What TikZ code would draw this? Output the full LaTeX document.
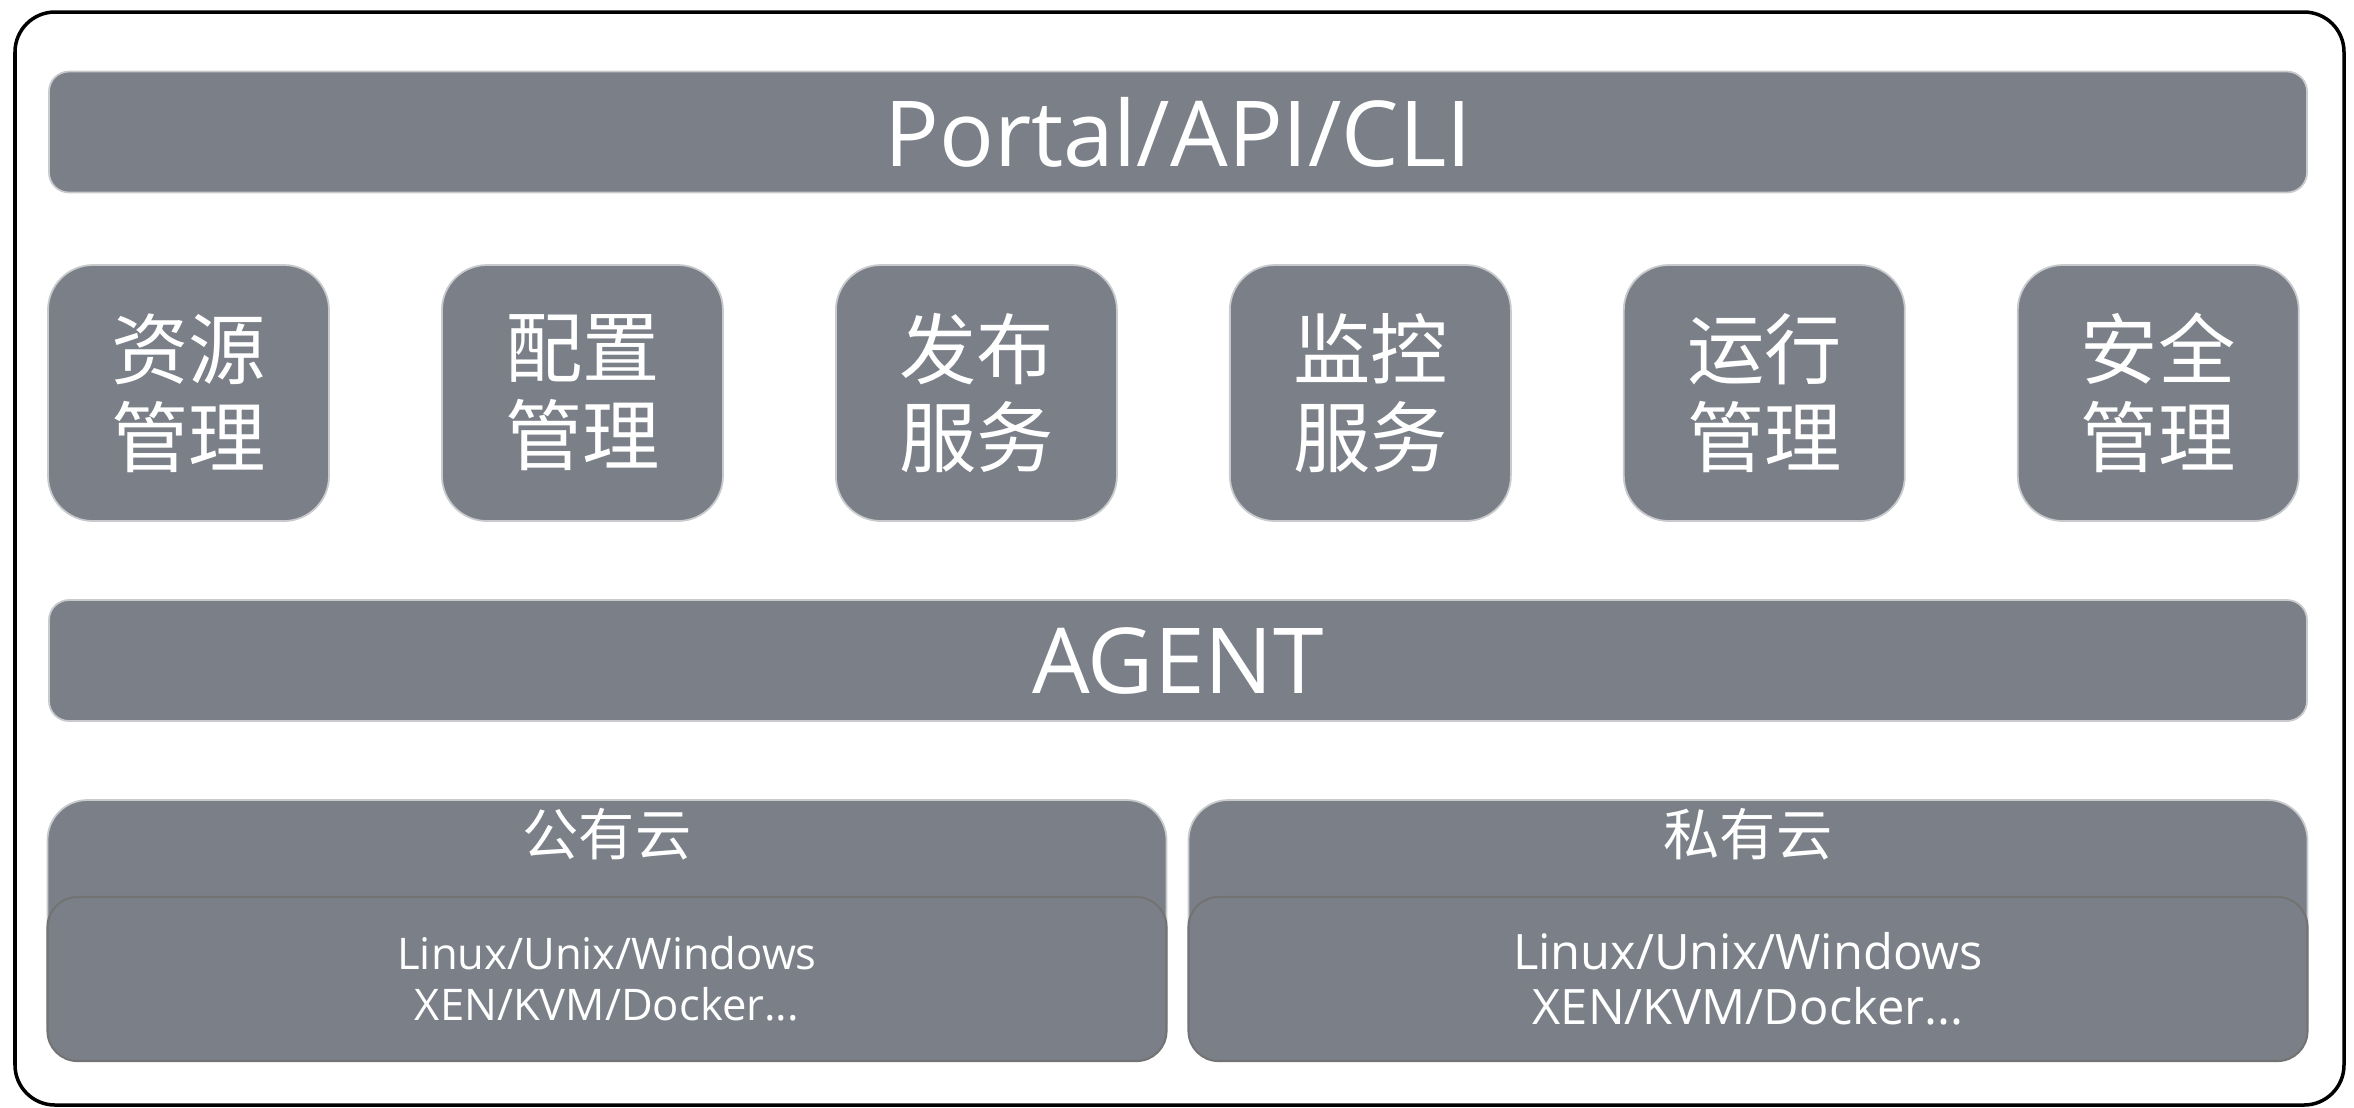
\documentclass[tikz,border=0pt]{standalone}
\usepackage{fontspec}
\setmainfont{Open Sans}
\newfontfamily\cjk{Noto Sans CJK SC}
\usepackage{tikz}
\usetikzlibrary{positioning}
\definecolor{boxgray}{RGB}{123,128,136}
\definecolor{edgegray}{RGB}{200,202,205}

\begin{document}
\begin{tikzpicture}[
		bar/.style={rectangle, rounded corners=0.2cm, fill=boxgray, draw=edgegray, line width=0.5pt, text=white, minimum width=22.58cm, minimum height=1.21cm, font=\fontsize{25.9}{30}\selectfont},
		module/.style={rectangle, rounded corners=0.45cm, fill=boxgray, draw=edgegray, line width=0.5pt, text=white, minimum width=2.81cm, minimum height=2.56cm, align=center, font=\cjk\fontsize{22}{25}\selectfont},
		cloud/.style={rectangle, rounded corners=0.4cm, fill=boxgray, draw=edgegray, line width=0.5pt, minimum width=11.19cm, minimum height=2.61cm},
		osbox/.style={rectangle, rounded corners=0.3cm, fill=boxgray, draw=black!55, line width=0.6pt, text=white, minimum width=11.19cm, minimum height=1.64cm, align=center},
		cloudtitle/.style={text=white, font=\cjk\fontsize{16}{18}\selectfont}
	]
		\useasboundingbox (0,0) rectangle (23.54,-11.07);
		\draw[line width=1pt, rounded corners=0.4cm] (0.15,-0.12) rectangle (23.44,-11.05);
		\node[bar] (portal) at (11.78,-1.32) {Portal/API/CLI};
		\node[module] (res) at (1.885,-3.93) {资源\\管理};
		\node[module, right = 1.112cm of res] (cfg) {配置\\管理};
		\node[module, right = 1.112cm of cfg] (pub) {发布\\服务};
		\node[module, right = 1.112cm of pub] (mon) {监控\\服务};
		\node[module, right = 1.112cm of mon] (ops) {运行\\管理};
		\node[module, right = 1.112cm of ops] (sec) {安全\\管理};
		\node[bar] (agent) at (11.78,-6.605) {AGENT};
		\node[cloud] (pubcloud) at (6.07,-9.305) {};
		\node[cloud] (pricloud) at (17.48,-9.305) {};
		\node[cloudtitle] (pubtitle) at (6.07,-8.34) {公有云};
		\node[cloudtitle] (prititle) at (17.48,-8.34) {私有云};
		\node[osbox, font=\fontsize{12.4}{14.5}\selectfont] (pubos) at (6.07,-9.79) {Linux/Unix/Windows\\XEN/KVM/Docker...};
		\node[osbox, font=\fontsize{13.9}{15.6}\selectfont] (prios) at (17.48,-9.79) {Linux/Unix/Windows\\XEN/KVM/Docker...};
	\end{tikzpicture}
\end{document}
